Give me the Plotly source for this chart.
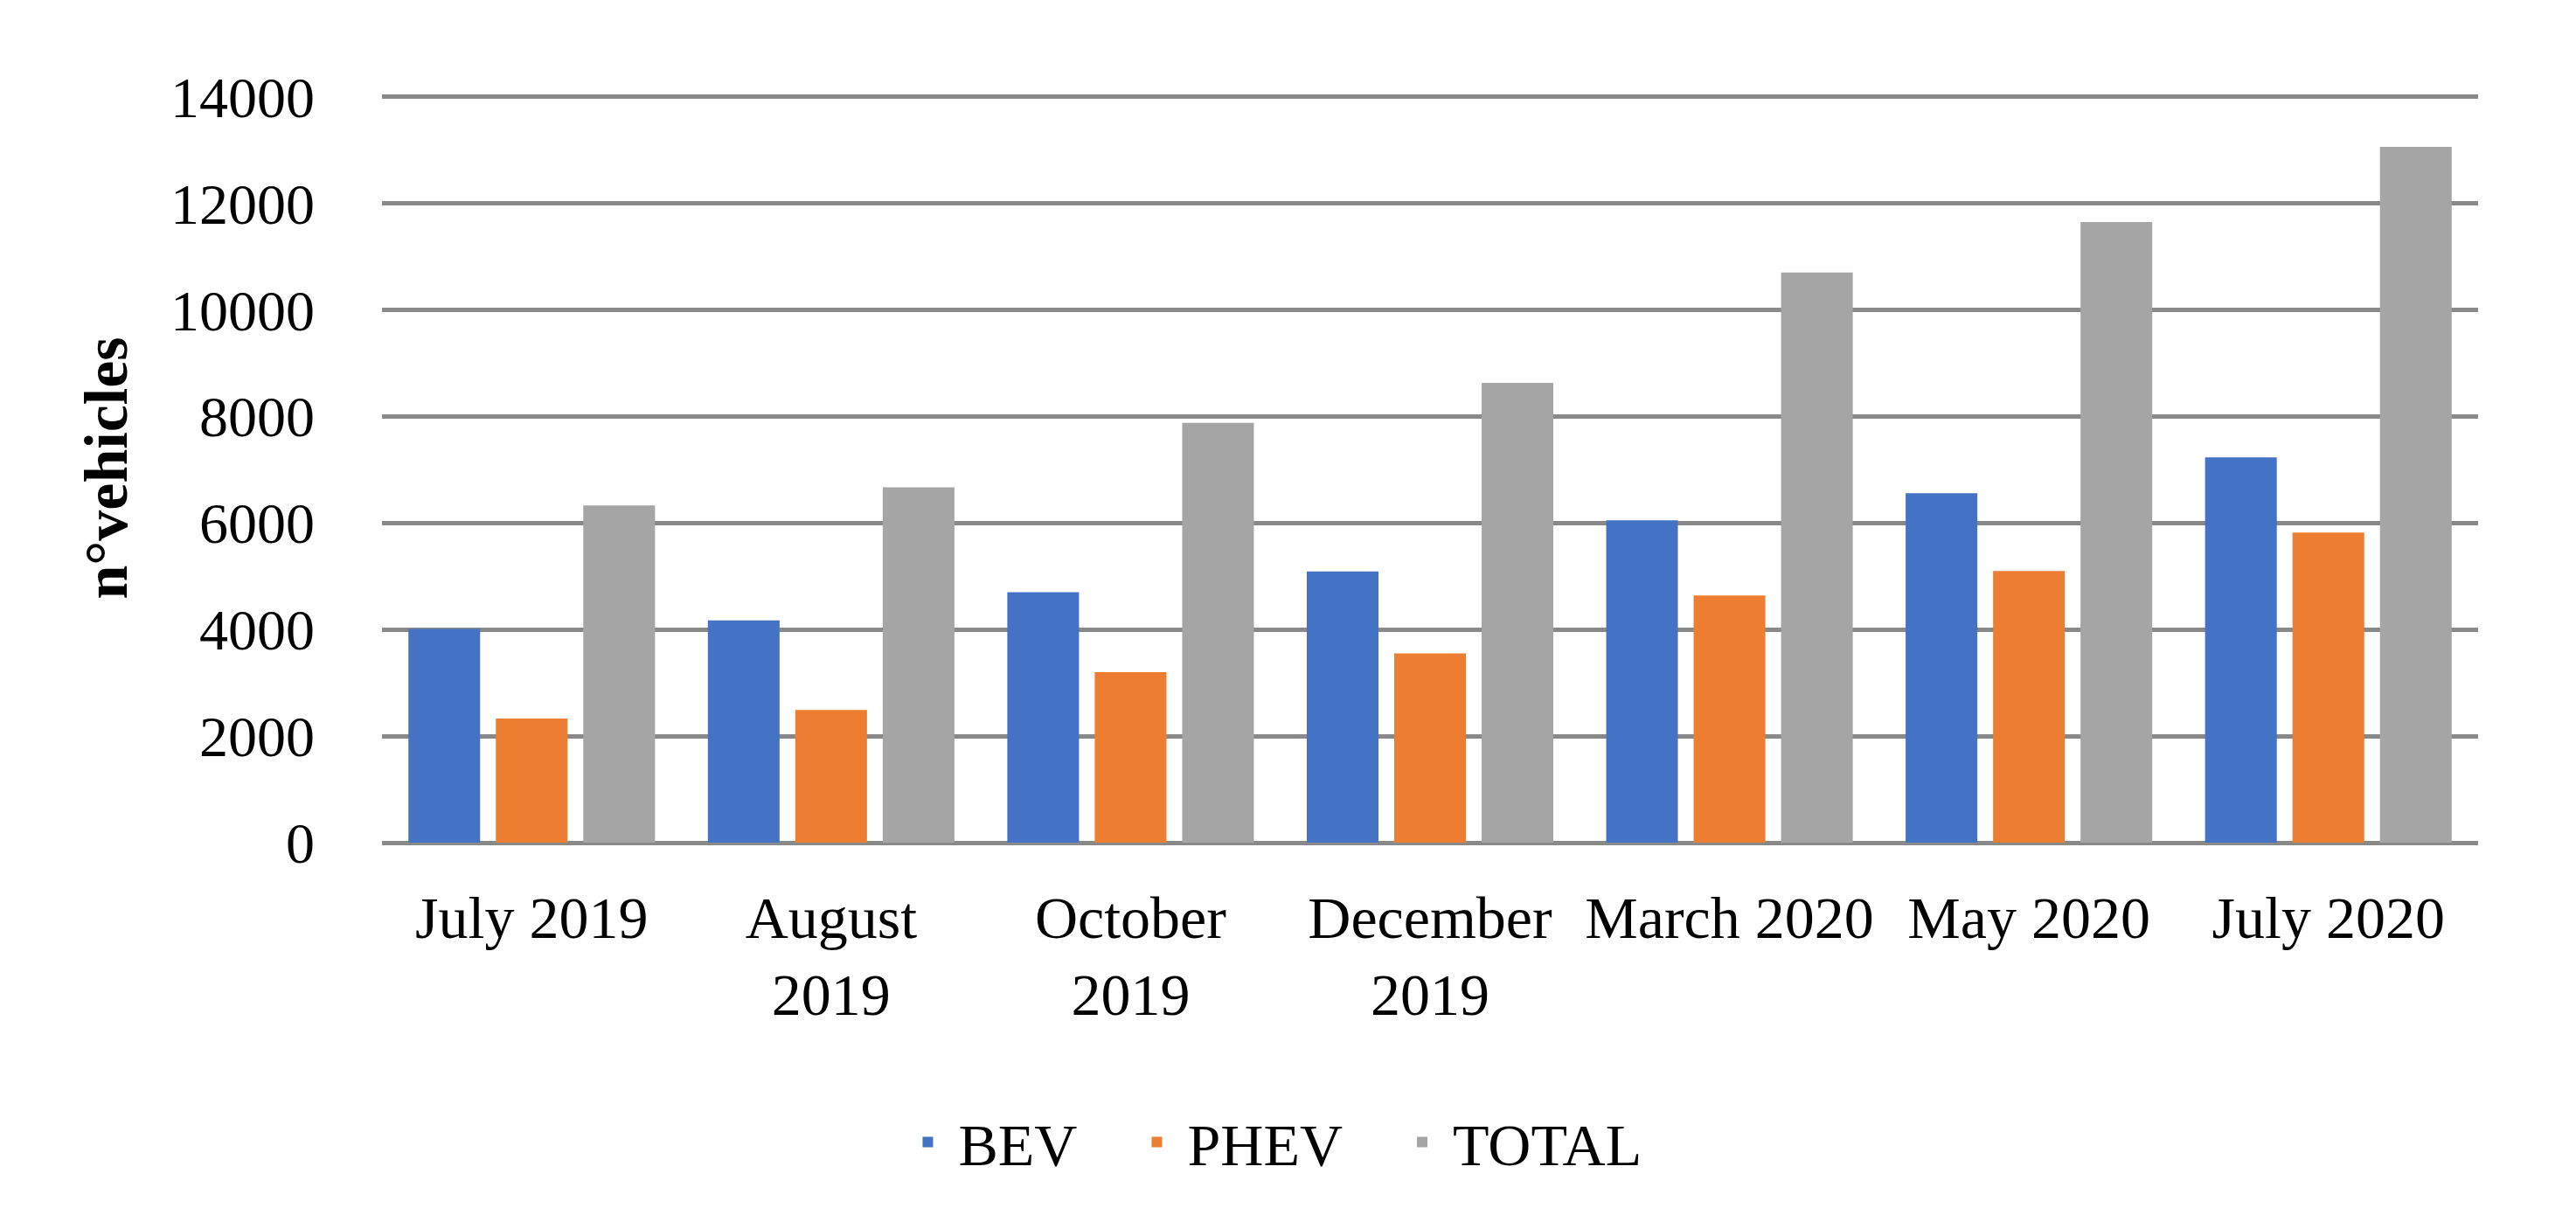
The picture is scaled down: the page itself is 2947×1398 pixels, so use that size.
import plotly.graph_objects as go

categories = ["July 2019", "August<br>2019", "October<br>2019", "December<br>2019",
              "March 2020", "May 2020", "July 2020"]
bev = [4010, 4170, 4700, 5090, 6050, 6560, 7230]
phev = [2330, 2490, 3200, 3550, 4640, 5100, 5820]
total = [6330, 6670, 7880, 8630, 10700, 11650, 13060]

series_names = ["BEV", "PHEV", "TOTAL"]
series_colors = ["#4472C4", "#ED7D31", "#A5A5A5"]
y_ticks = [0, 2000, 4000, 6000, 8000, 10000, 12000, 14000]
y_tick_text = ["0", "2000", "4000", "6000", "8000", "10000", "12000", "14000"]

FONT = "Liberation Serif"
NBSP = "\u00a0"
legend_pad = [NBSP * 3, NBSP * 3, ""]

fig = go.Figure()
for name, vals, col, pad in zip(series_names, [bev, phev, total], series_colors, legend_pad):
    fig.add_trace(go.Bar(x=categories, y=vals, name=name + pad, marker_color=col,
                         marker_line_width=0))

fig.update_layout(
    width=2947, height=1398, autosize=False,
    margin=dict(l=429, r=120, t=99, b=442, autoexpand=False),
    paper_bgcolor="white", plot_bgcolor="white",
    font=dict(family=FONT, size=68, color="black"),
    barmode="group", bargap=0.124, bargroupgap=0.18,
    showlegend=True,
    legend=dict(orientation="h", x=0.4245, xanchor="center",
                y=-0.40, yanchor="middle", font=dict(size=68, family=FONT),
                itemwidth=60, traceorder="normal"),
)
fig.update_xaxes(showgrid=False, showline=False, ticks="", tickfont=dict(size=68),
                 tickangle=0, automargin=False, ticklabelstandoff=40)
fig.update_yaxes(range=[0, 14060], tickvals=y_ticks, ticktext=y_tick_text,
                 showgrid=True, automargin=False,
                 gridcolor="#898989", gridwidth=5, zeroline=True,
                 zerolinecolor="#898989", zerolinewidth=5, showline=False,
                 ticks="", tickfont=dict(size=66), ticklabelstandoff=76,
                 title=dict(text="<b>n°vehicles</b>", font=dict(size=70, family=FONT),
                            standoff=26))

fig.write_html("out.html")
